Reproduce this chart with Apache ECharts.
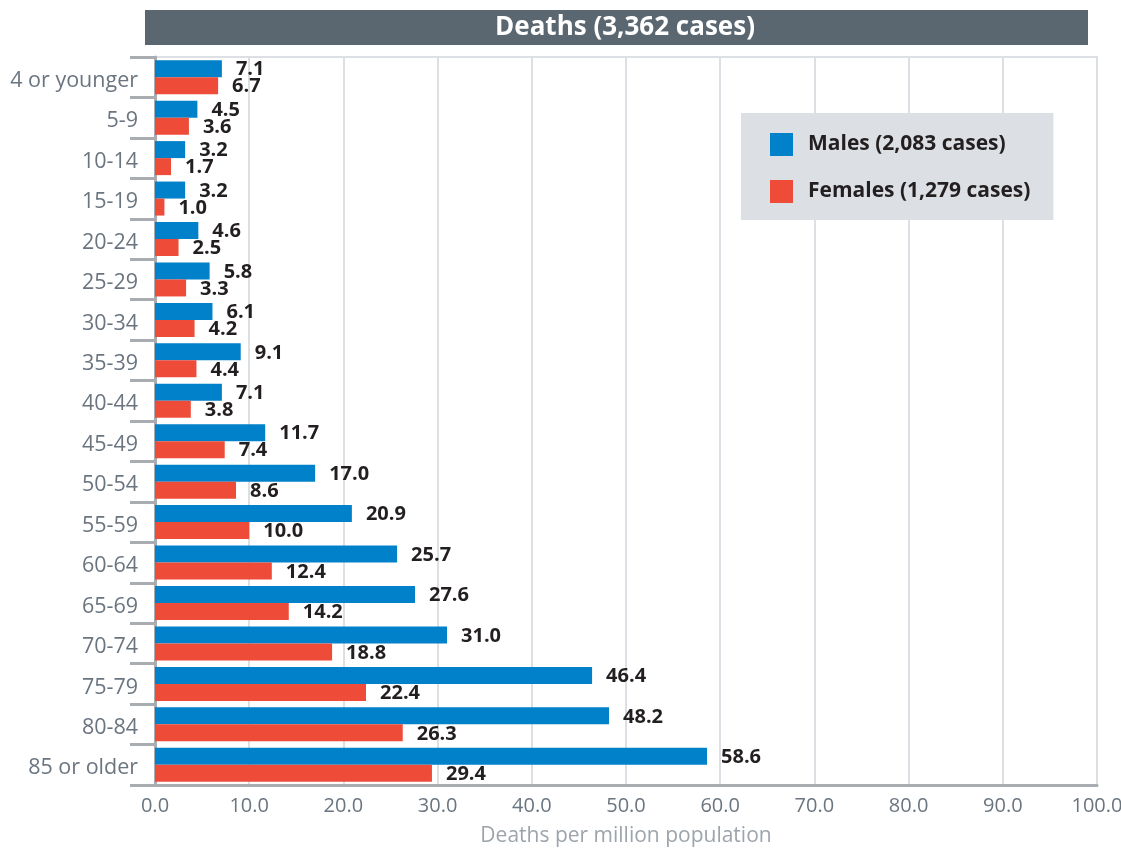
<!DOCTYPE html>
<html>
<head>
<meta charset="utf-8">
<script src="https://cdn.jsdelivr.net/npm/echarts@6/dist/echarts.min.js"></script>
<style>
html,body{margin:0;padding:0;background:#fff;}
#chart{width:1121px;height:851px;}
</style>
</head>
<body>
<div id="chart"></div>
<script>
const categories = ['4 or younger','5-9','10-14','15-19','20-24','25-29','30-34','35-39','40-44','45-49','50-54','55-59','60-64','65-69','70-74','75-79','80-84','85 or older'];
const males = [7.1,4.5,3.2,3.2,4.6,5.8,6.1,9.1,7.1,11.7,17.0,20.9,25.7,27.6,31.0,46.4,48.2,58.6];
const females = [6.7,3.6,1.7,1.0,2.5,3.3,4.2,4.4,3.8,7.4,8.6,10.0,12.4,14.2,18.8,22.4,26.3,29.4];
const seriesNames = ['Males (2,083 cases)','Females (1,279 cases)'];
const titleText = 'Deaths (3,362 cases)';
const xAxisName = 'Deaths per million population';

const FONT = '"Open Sans", "Noto Sans", sans-serif';
const chart = echarts.init(document.getElementById('chart'), null, {renderer:'canvas'});
const labelCfg = {
  show: true, position: 'right', distance: 14, offset: [0, 1],
  fontFamily: FONT, fontWeight: 'bold', fontSize: 20, color: '#231f20',
  formatter: p => p.value.toFixed(1)
};
chart.setOption({
  animation: false,
  textStyle: {fontFamily: FONT},
  graphic: [
    {type:'rect', left:145, top:10, shape:{width:943, height:35}, style:{fill:'#5b6770'}, z:10},
    {type:'text', x:625, y:28, style:{text:titleText, fill:'#ffffff', font:'bold 26px "Open Sans", sans-serif', textAlign:'center', textVerticalAlign:'middle'}, z:11}
  ],
  legend: {
    data: seriesNames,
    orient: 'vertical',
    left: 741, top: 113,
    backgroundColor: '#dcdfe3',
    padding: [20, 23, 17, 29],
    itemWidth: 23, itemHeight: 23,
    itemGap: 24,
    icon: 'rect',
    selectedMode: false,
    textStyle: {fontFamily: FONT, fontWeight: 'bold', fontSize: 21, color: '#231f20', padding: [0,0,0,10]}
  },
  grid: {
    left: 155, right: 24, top: 57, bottom: 66,
    outerBoundsMode: 'none',
    containLabel: false,
    show: true, borderColor: '#dcdfe3', borderWidth: 2, backgroundColor: 'transparent'
  },
  xAxis: {
    type: 'value', min: 0, max: 100, interval: 10,
    name: xAxisName, nameLocation: 'middle', nameGap: 41,
    nameTextStyle: {fontFamily: FONT, fontSize: 21, color: '#9da4ab'},
    axisLine: {show: true, lineStyle: {color: '#a9adb1', width: 3}},
    axisTick: {show: false},
    axisLabel: {fontFamily: FONT, fontSize: 20, color: '#6b7580', margin: 11, formatter: v => v.toFixed(1)},
    splitLine: {show: true, lineStyle: {color: '#dcdfe3', width: 2}}
  },
  yAxis: {
    type: 'category', data: categories, inverse: true,
    axisLine: {show: true, lineStyle: {color: '#a9adb1', width: 3}},
    axisTick: {show: true, length: 25, lineStyle: {color: '#a9adb1', width: 3}},
    axisLabel: {fontFamily: FONT, fontSize: 21.5, color: '#6b7580', margin: 17, verticalAlign: 'top', lineHeight: 7},
    splitLine: {show: false}
  },
  series: [
    {name: seriesNames[0], type: 'bar', data: males, barWidth: 17, barGap: '0%', itemStyle: {color: '#0081c9'}, label: labelCfg},
    {name: seriesNames[1], type: 'bar', data: females, barWidth: 17, barGap: '0%', itemStyle: {color: '#ee4b38'}, label: labelCfg}
  ]
});
</script>
</body>
</html>
